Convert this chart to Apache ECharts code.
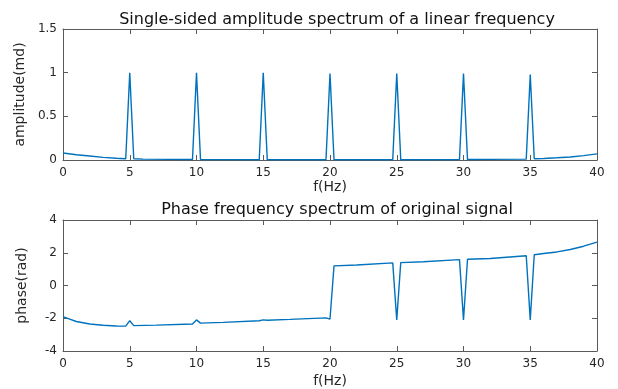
<!DOCTYPE html>
<html><head><meta charset="utf-8">
<script src="https://cdn.jsdelivr.net/npm/echarts@6/dist/echarts.min.js"></script>
<style>html,body{margin:0;padding:0;background:#fff}#c{width:618px;height:389px}</style>
</head><body><div id="c"></div>
<script>
// Amplitude spectrum (frequency in Hz, amplitude)
const ampFreq = [0,1,2,3,4,4.7,5,5.3,6,8,9.7,10,10.3,12,14.7,15,15.3,17,19.7,20,20.3,22,24.7,25,25.3,27,29.7,30,30.3,32,34.7,35,35.3,36,37,38,39,40];
const ampVals = [0.08,0.06,0.045,0.03,0.02,0.015,1.0,0.015,0.01,0.007,0.005,1.0,0.005,0.004,0.003,1.0,0.003,0.003,0.003,0.99,0.003,0.003,0.003,0.99,0.003,0.003,0.005,0.99,0.005,0.007,0.01,0.98,0.015,0.018,0.025,0.035,0.05,0.07];
// Phase spectrum (frequency in Hz, phase in rad)
const phFreq = [0,0.5,1,2,3,4,4.7,5,5.3,7,9.7,10,10.3,12,14.7,15,15.3,17,19.7,20,20.3,22,24.7,25,25.3,27,29.7,30,30.3,32,34.7,35,35.3,36,37,38,39,40];
const phVals = [-1.9,-2.05,-2.2,-2.35,-2.43,-2.47,-2.48,-2.15,-2.45,-2.42,-2.35,-2.1,-2.3,-2.25,-2.15,-2.1,-2.12,-2.07,-1.98,-2.05,1.2,1.25,1.38,-2.1,1.4,1.45,1.58,-2.1,1.6,1.65,1.82,-2.1,1.88,1.95,2.05,2.2,2.4,2.65];
const xTicks = [0,5,10,15,20,25,30,35,40];
const ampTicks = [0,0.5,1,1.5];
const phTicks = [-4,-2,0,2,4];
const titles = ['Single-sided amplitude spectrum of a linear frequency','Phase frequency spectrum of original signal'];
const yNames = ['amplitude(md)','phase(rad)'];
const xName = 'f(Hz)';

const axisCol = '#5a5a5a';
const font = 'DejaVu Sans, sans-serif';
const lineCol = '#0072BD';

function xAx(grid, pos, show, gap){
  return {type:'value', gridIndex:grid, position:pos, min:xTicks[0], max:xTicks[xTicks.length-1], interval:xTicks[1]-xTicks[0],
    name: show ? xName : '', nameLocation:'middle', nameGap:gap||20,
    nameTextStyle:{color:'#262626', fontSize:14, fontFamily:font},
    axisLine:{show:true, onZero:false, lineStyle:{color:axisCol, width:1}},
    axisTick:{show:true, inside:true, length:5, lineStyle:{color:axisCol}},
    axisLabel:{show:show, color:'#262626', fontSize:12, fontFamily:font, margin:7},
    splitLine:{show:false}};
}
function yAx(grid, pos, show, ticks, nm){
  return {type:'value', gridIndex:grid, position:pos, min:ticks[0], max:ticks[ticks.length-1], interval:ticks[1]-ticks[0],
    name: show ? nm : '', nameLocation:'middle', nameGap:34, nameRotate:90,
    nameTextStyle:{color:'#262626', fontSize:14, fontFamily:font},
    axisLine:{show:true, onZero:false, lineStyle:{color:axisCol, width:1}},
    axisTick:{show:true, inside:true, length:5, lineStyle:{color:axisCol}},
    axisLabel:{show:show, color:'#262626', fontSize:12, fontFamily:font, margin:6, formatter:v=>String(v)},
    splitLine:{show:false}};
}

const chart = echarts.init(document.getElementById('c'), null, {renderer:'canvas'});
chart.setOption({
  animation:false,
  backgroundColor:'#fff',
  title:[
    {text:titles[0], left:332, top:7, textAlign:'center', textStyle:{fontSize:16, fontWeight:'normal', color:'#111', fontFamily:font}},
    {text:titles[1], left:332, top:197, textAlign:'center', textStyle:{fontSize:16, fontWeight:'normal', color:'#111', fontFamily:font}}
  ],
  grid:[
    {left:63, right:21, top:29, height:131},
    {left:63, right:21, top:220, height:132}
  ],
  xAxis:[xAx(0,'bottom',true,20), xAx(0,'top',false), xAx(1,'bottom',true,23), xAx(1,'top',false)],
  yAxis:[
    yAx(0,'left',true,ampTicks,yNames[0]),
    yAx(0,'right',false,ampTicks,''),
    yAx(1,'left',true,phTicks,yNames[1]),
    yAx(1,'right',false,phTicks,'')
  ],
  series:[
    {type:'line', xAxisIndex:0, yAxisIndex:0, showSymbol:false, symbol:'none',
     lineStyle:{color:lineCol, width:1.4}, data: ampFreq.map((f,i)=>[f, ampVals[i]])},
    {type:'line', xAxisIndex:2, yAxisIndex:2, showSymbol:false, symbol:'none',
     lineStyle:{color:lineCol, width:1.4}, data: phFreq.map((f,i)=>[f, phVals[i]])}
  ]
});
</script></body></html>
